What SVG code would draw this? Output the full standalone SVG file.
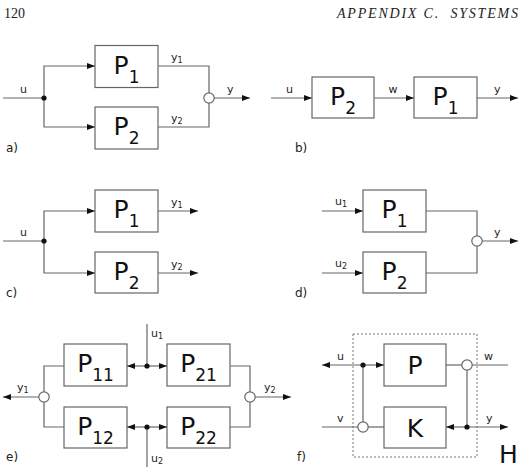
<svg xmlns="http://www.w3.org/2000/svg" width="521" height="472" viewBox="0 0 521 472">
<defs>
<marker id="arr" markerUnits="userSpaceOnUse" markerWidth="9" markerHeight="7" refX="8" refY="3" orient="auto-start-reverse" viewBox="0 0 9 7">
<path d="M0,0 L8,3 L0,6 z" fill="#111"/>
</marker>
<style>
.ln{fill:none;stroke:#666;stroke-width:1.2}
.ar{marker-end:url(#arr)}
.box{fill:#fff;stroke:#666;stroke-width:1.2}
.sum{fill:#fff;stroke:#666;stroke-width:1.2}
.dot{fill:#111}
.big{font-family:"DejaVu Sans",sans-serif;font-size:25px;fill:#111;text-anchor:middle}
.sub{font-size:17px}
.lb{font-family:"DejaVu Sans",sans-serif;font-size:11px;fill:#222}
.ls{font-size:8px}
.pl{font-family:"DejaVu Sans",sans-serif;font-size:12px;fill:#222}
.hd{font-family:"Liberation Serif",serif;font-size:14px;fill:#222}
</style>
</defs>

<text class="hd" x="4" y="18">120</text>
<text class="hd" x="337" y="18" font-style="italic" textLength="181" lengthAdjust="spacing" xml:space="preserve">APPENDIX C.  SYSTEMS</text>

<!-- connectors -->
<g id="connectors">
<!-- a -->
<path class="ln" d="M3,98 H44"/>
<path class="ln ar" d="M44,98 V66 H95"/>
<path class="ln ar" d="M44,98 V127 H95"/>
<path class="ln" d="M158,66 H209 V93"/>
<path class="ln" d="M158,127 H209 V103"/>
<path class="ln ar" d="M214,98 H250"/>
<!-- b -->
<path class="ln ar" d="M271,98 H312"/>
<path class="ln ar" d="M374,98 H414"/>
<path class="ln ar" d="M477,98 H518"/>
<!-- c -->
<path class="ln" d="M3,241 H44"/>
<path class="ln ar" d="M44,241 V211 H95"/>
<path class="ln ar" d="M44,241 V273 H95"/>
<path class="ln ar" d="M158,211 H198"/>
<path class="ln ar" d="M158,273 H198"/>
<!-- d -->
<path class="ln ar" d="M322,211 H363"/>
<path class="ln ar" d="M322,273 H363"/>
<path class="ln" d="M426,211 H477 V236"/>
<path class="ln" d="M426,273 H477 V246"/>
<path class="ln ar" d="M482,241 H518"/>
<!-- e -->
<path class="ln" d="M147,324 V366"/>
<path class="ln ar" d="M147,366 H127" />
<path class="ln ar" d="M147,366 H167" />
<path class="ln" d="M147,467 V427"/>
<path class="ln ar" d="M147,427 H127" />
<path class="ln ar" d="M147,427 H167" />
<path class="ln" d="M64,366 H44 V392"/>
<path class="ln" d="M64,427 H44 V402"/>
<path class="ln ar" d="M39,397 H3"/>
<path class="ln" d="M230,366 H250 V392"/>
<path class="ln" d="M230,427 H250 V402"/>
<path class="ln ar" d="M255,397 H291"/>
<!-- f -->
<rect x="353" y="334" width="124" height="123" fill="none" stroke="#777" stroke-width="1" stroke-dasharray="2,2"/>
<path class="ln ar" d="M363,365 H322"/>
<path class="ln ar" d="M363,365 H384"/>
<path class="ln" d="M446,365 H462"/>
<path class="ln" d="M472,365 H508"/>
<path class="ln" d="M363,365 V422"/>
<path class="ln" d="M322,427 H358"/>
<path class="ln" d="M368,427 H384"/>
<path class="ln" d="M467,370 V427"/>
<path class="ln ar" d="M467,427 H446"/>
<path class="ln ar" d="M467,427 H508"/>
</g>

<!-- panel a -->
<g id="a-P1"><rect class="box" x="95" y="45.5" width="63" height="42"/><text class="big" x="126.5" y="73.5">P<tspan class="sub" dy="9">1</tspan></text></g>
<g id="a-P2"><rect class="box" x="95" y="107" width="63" height="42"/><text class="big" x="126.5" y="135">P<tspan class="sub" dy="9">2</tspan></text></g>
<g id="a-junction"><circle class="dot" cx="44" cy="98" r="2.6"/></g>
<g id="a-sum"><circle class="sum" cx="209" cy="98" r="5.2"/></g>
<text class="lb" x="20" y="93">u</text>
<text class="lb" x="171" y="61">y<tspan class="ls" dy="2">1</tspan></text>
<text class="lb" x="171" y="122">y<tspan class="ls" dy="2">2</tspan></text>
<text class="lb" x="227" y="93">y</text>
<text class="pl" x="6" y="152">a)</text>

<!-- panel b -->
<g id="b-P2"><rect class="box" x="312" y="77" width="62" height="41"/><text class="big" x="343" y="104.5">P<tspan class="sub" dy="9">2</tspan></text></g>
<g id="b-P1"><rect class="box" x="414" y="77" width="63" height="41"/><text class="big" x="445.5" y="104.5">P<tspan class="sub" dy="9">1</tspan></text></g>
<text class="lb" x="286" y="93">u</text>
<text class="lb" x="393" y="93" text-anchor="middle">w</text>
<text class="lb" x="494" y="93">y</text>
<text class="pl" x="295" y="152">b)</text>

<!-- panel c -->
<g id="c-P1"><rect class="box" x="95" y="190" width="63" height="42"/><text class="big" x="126.5" y="218">P<tspan class="sub" dy="9">1</tspan></text></g>
<g id="c-P2"><rect class="box" x="95" y="252" width="63" height="41"/><text class="big" x="126.5" y="279.5">P<tspan class="sub" dy="9">2</tspan></text></g>
<g id="c-junction"><circle class="dot" cx="44" cy="241" r="2.6"/></g>
<text class="lb" x="20" y="236">u</text>
<text class="lb" x="171" y="206">y<tspan class="ls" dy="2">1</tspan></text>
<text class="lb" x="171" y="268">y<tspan class="ls" dy="2">2</tspan></text>
<text class="pl" x="6" y="297">c)</text>

<!-- panel d -->
<g id="d-P1"><rect class="box" x="363" y="190" width="63" height="42"/><text class="big" x="394.5" y="218">P<tspan class="sub" dy="9">1</tspan></text></g>
<g id="d-P2"><rect class="box" x="363" y="252" width="63" height="41"/><text class="big" x="394.5" y="279.5">P<tspan class="sub" dy="9">2</tspan></text></g>
<g id="d-sum"><circle class="sum" cx="477" cy="241" r="5.2"/></g>
<text class="lb" x="335" y="205">u<tspan class="ls" dy="2">1</tspan></text>
<text class="lb" x="335" y="267">u<tspan class="ls" dy="2">2</tspan></text>
<text class="lb" x="494" y="236">y</text>
<text class="pl" x="295" y="297">d)</text>

<!-- panel e -->
<g id="e-P11"><rect class="box" x="64" y="344" width="63" height="42"/><text class="big" x="95.5" y="372">P<tspan class="sub" dy="9">11</tspan></text></g>
<g id="e-P21"><rect class="box" x="167" y="344" width="63" height="42"/><text class="big" x="198.5" y="372">P<tspan class="sub" dy="9">21</tspan></text></g>
<g id="e-P12"><rect class="box" x="64" y="407" width="63" height="41"/><text class="big" x="95.5" y="434.5">P<tspan class="sub" dy="9">12</tspan></text></g>
<g id="e-P22"><rect class="box" x="167" y="407" width="63" height="41"/><text class="big" x="198.5" y="434.5">P<tspan class="sub" dy="9">22</tspan></text></g>
<g id="e-j1"><circle class="dot" cx="147" cy="366" r="2.6"/></g>
<g id="e-j2"><circle class="dot" cx="147" cy="427" r="2.6"/></g>
<g id="e-sum1"><circle class="sum" cx="44" cy="397" r="5.2"/></g>
<g id="e-sum2"><circle class="sum" cx="250" cy="397" r="5.2"/></g>
<text class="lb" x="151" y="337">u<tspan class="ls" dy="2">1</tspan></text>
<text class="lb" x="151" y="462">u<tspan class="ls" dy="2">2</tspan></text>
<text class="lb" x="17" y="391">y<tspan class="ls" dy="2">1</tspan></text>
<text class="lb" x="264" y="391">y<tspan class="ls" dy="2">2</tspan></text>
<text class="pl" x="6" y="461">e)</text>

<!-- panel f -->
<g id="f-P"><rect class="box" x="384" y="344" width="62" height="42"/><text class="big" x="415" y="374">P</text></g>
<g id="f-K"><rect class="box" x="384" y="407" width="62" height="41"/><text class="big" x="415" y="436.5">K</text></g>
<g id="f-j1"><circle class="dot" cx="363" cy="365" r="2.6"/></g>
<g id="f-j2"><circle class="dot" cx="467" cy="427" r="2.6"/></g>
<g id="f-sum1"><circle class="sum" cx="467" cy="365" r="5.2"/></g>
<g id="f-sum2"><circle class="sum" cx="363" cy="427" r="5.2"/></g>
<text class="lb" x="337" y="360">u</text>
<text class="lb" x="337" y="422">v</text>
<text class="lb" x="484" y="360">w</text>
<text class="lb" x="486" y="422">y</text>
<text class="pl" x="297" y="461">f)</text>
<text font-family="DejaVu Sans, sans-serif" font-size="25" fill="#111" x="499" y="463">H</text>
</svg>
